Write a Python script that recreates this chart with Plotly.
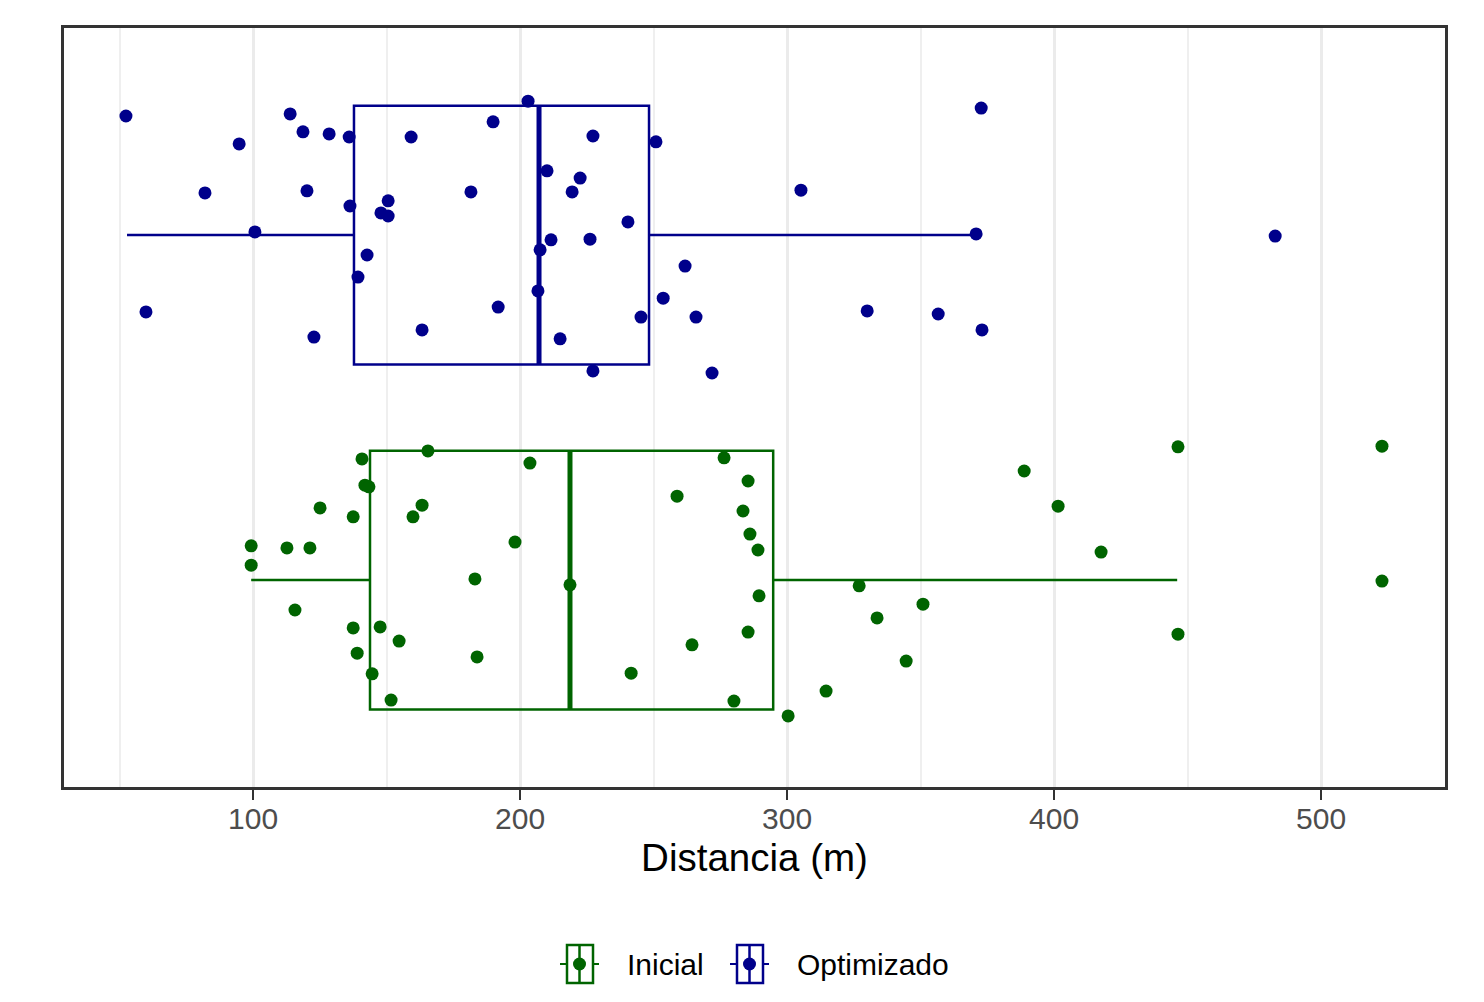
import plotly.graph_objects as go

# ---------------- data ----------------
groups = ["Inicial", "Optimizado"]
group_pos = [1, 2]
colors = ["#006400", "#00008B"]

# jittered points: distance (m) and vertical jitter offset
inicial_x = [99.3, 99.3, 112.7, 115.7, 121.3, 125.1, 137.5, 137.5, 139.0, 140.8,
             141.9, 143.4, 144.6, 147.6, 151.7, 154.7, 159.9, 163.3, 165.5, 183.1,
             183.9, 198.1, 203.7, 218.7, 241.6, 258.8, 264.4, 276.4, 280.1, 283.5,
             285.4, 285.4, 286.1, 289.1, 289.5, 300.4, 314.6, 327.0, 333.7, 344.6,
             350.9, 388.8, 401.5, 417.6, 446.4, 446.4, 522.8, 522.8]
inicial_jit = [0.099, 0.043, 0.093, -0.087, 0.093, 0.209, 0.183, -0.139, -0.212, 0.351,
               0.275, 0.270, -0.272, -0.136, -0.348, -0.177, 0.183, 0.217, 0.374, 0.003,
               -0.223, 0.110, 0.339, -0.014, -0.270, 0.243, -0.188, 0.354, -0.351, 0.200,
               0.287, -0.151, 0.133, 0.087, -0.046, -0.394, -0.322, -0.017, -0.110, -0.235,
               -0.070, 0.316, 0.214, 0.081, 0.386, -0.157, 0.388, -0.003]

optim_x = [52.4, 59.9, 94.8, 82.0, 100.7, 113.9, 118.7, 120.2, 122.8, 128.5,
           136.0, 136.3, 139.3, 142.7, 147.9, 150.6, 150.6, 159.2, 163.3, 181.6,
           189.9, 191.8, 203.0, 206.7, 207.5, 210.1, 211.6, 215.0, 219.5, 222.5,
           226.2, 227.3, 227.3, 240.4, 245.3, 250.9, 253.6, 261.8, 265.9, 271.9,
           305.2, 330.0, 356.6, 370.8, 372.7, 373.0, 482.8]
optim_jit = [0.345, -0.223, 0.264, 0.122, 0.009, 0.351, 0.299, 0.128, -0.296, 0.293,
             0.284, 0.084, -0.122, -0.058, 0.064, 0.099, 0.055, 0.284, -0.275, 0.125,
             0.328, -0.209, 0.388, -0.162, -0.043, 0.186, -0.014, -0.301, 0.125, 0.165,
             -0.012, 0.287, -0.394, 0.038, -0.238, 0.270, -0.183, -0.090, -0.238, -0.400,
             0.130, -0.220, -0.229, 0.003, 0.368, -0.275, -0.003]

# box statistics
q1 = [143.8, 137.8]
median = [218.7, 207.1]
q3 = [294.8, 248.3]
lowerfence = [99.3, 52.8]
upperfence = [446.1, 370.8]

x_ticks = [100, 200, 300, 400, 500]

# ---------------- figure ----------------
FONT = "Liberation Sans, Arial, Helvetica, sans-serif"
box_w = 0.75
W, H = 1476, 994          # page body has an 8px default margin
ML, MR, MT, MB = 56, 39, 20, 215
PW, PH = W - ML - MR, H - MT - MB

fig = go.Figure()

pts = [(inicial_x, inicial_jit), (optim_x, optim_jit)]
for i, g in enumerate(groups):
    fig.add_trace(go.Box(
        name=g, y=[group_pos[i]], q1=[q1[i]], median=[median[i]], q3=[q3[i]],
        lowerfence=[lowerfence[i]], upperfence=[upperfence[i]],
        orientation="h", width=box_w, whiskerwidth=0, boxpoints=False,
        line=dict(color=colors[i], width=2.5), fillcolor="rgba(255,255,255,0)",
        showlegend=False, hoverinfo="skip",
    ))
    # thicker median line
    fig.add_trace(go.Scatter(
        x=[median[i], median[i]],
        y=[group_pos[i] - box_w / 2, group_pos[i] + box_w / 2],
        mode="lines", line=dict(color=colors[i], width=5),
        showlegend=False, hoverinfo="skip",
    ))
for i, g in enumerate(groups):
    xs, js = pts[i]
    fig.add_trace(go.Scatter(
        x=xs, y=[group_pos[i] + j for j in js], mode="markers",
        marker=dict(color=colors[i], size=13, line=dict(width=0)),
        showlegend=False, name=g,
    ))

# ---- custom legend (ggplot-like boxplot keys), positioned in paper coords ----
def px_x(p):  # reference-page pixel -> paper x
    return (p - 8 - ML) / PW

def px_y(p):  # reference-page pixel -> paper y
    return (MT + PH - (p - 8)) / PH

shapes = []
annotations = []
key_left = [560, 730]
text_left = [625, 795]
cy = 964
for i, g in enumerate(groups):
    x0 = key_left[i]
    c = colors[i]
    xc = x0 + 19.5
    shapes.append(dict(type="line", xref="paper", yref="paper",
                       x0=px_x(x0), x1=px_x(x0 + 39), y0=px_y(cy), y1=px_y(cy),
                       line=dict(color=c, width=2)))
    shapes.append(dict(type="rect", xref="paper", yref="paper",
                       x0=px_x(x0 + 7), x1=px_x(x0 + 33), y0=px_y(cy - 19), y1=px_y(cy + 19),
                       line=dict(color=c, width=2.5), fillcolor="white"))
    shapes.append(dict(type="line", xref="paper", yref="paper",
                       x0=px_x(xc), x1=px_x(xc), y0=px_y(cy - 19), y1=px_y(cy + 19),
                       line=dict(color=c, width=2.5)))
    shapes.append(dict(type="circle", xref="paper", yref="paper",
                       x0=px_x(xc - 6.5), x1=px_x(xc + 6.5), y0=px_y(cy - 6.5), y1=px_y(cy + 6.5),
                       line=dict(width=0), fillcolor=c))
    annotations.append(dict(text=g, xref="paper", yref="paper", x=px_x(text_left[i]),
                            y=px_y(cy), xanchor="left", yanchor="middle", showarrow=False,
                            font=dict(size=30, color="black", family=FONT)))

fig.update_layout(
    width=W, height=H,
    margin=dict(l=ML, r=MR, t=MT, b=MB, autoexpand=False),
    paper_bgcolor="white", plot_bgcolor="white",
    font=dict(family=FONT, color="black"),
    showlegend=False,
    shapes=shapes, annotations=annotations,
)
fig.update_xaxes(
    range=[29.2, 546.4], tickmode="array", tickvals=x_ticks,
    ticktext=[str(v) for v in x_ticks],
    tickfont=dict(size=30, color="#4D4D4D", family=FONT),
    ticks="outside", ticklen=10, tickwidth=2, tickcolor="#333333",
    ticklabelstandoff=-7,
    showgrid=True, gridcolor="#EBEBEB", gridwidth=3,
    minor=dict(tickmode="array", tickvals=[50, 150, 250, 350, 450],
               showgrid=True, gridcolor="#EFEFEF", gridwidth=1.5, ticks=""),
    showline=True, linecolor="#333333", linewidth=2.5, mirror=True,
    zeroline=False,
    title=dict(text="Distancia (m)", font=dict(size=38.5, color="black", family=FONT), standoff=11),
)
fig.update_yaxes(
    range=[0.4, 2.6], showticklabels=False, ticks="", showgrid=False, zeroline=False,
    showline=True, linecolor="#333333", linewidth=2.5, mirror=True,
)

fig.write_html("out.html")
